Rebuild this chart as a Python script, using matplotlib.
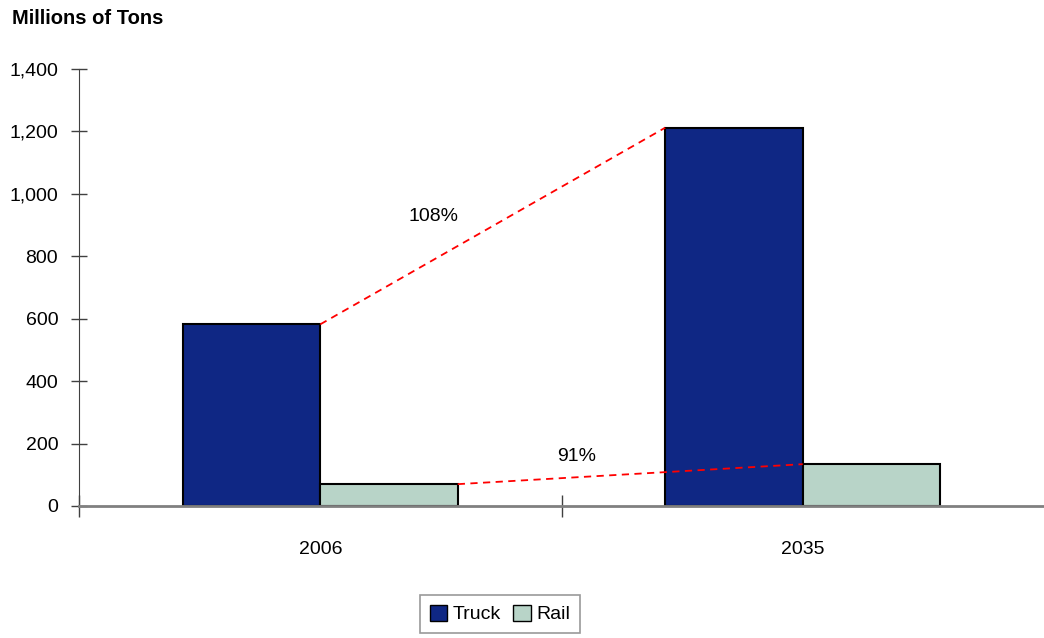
import matplotlib.pyplot as plt
from matplotlib.patches import Patch

years = ["2006", "2035"]
truck = [582, 1212]
rail = [70, 134]
growth_labels = ["108%", "91%"]
yticks = [0, 200, 400, 600, 800, 1000, 1200, 1400]

plt.rcParams['font.family'] = ['Liberation Sans Narrow', 'Liberation Sans', 'DejaVu Sans']

fig = plt.figure(figsize=(10.44, 6.38), dpi=100)
ax = fig.add_axes([79 / 1044, 132 / 638, 965 / 1044, 437 / 638])

x = [0, 1]
w = 0.285
truck_col = "#0F2784"
rail_col = "#B8D4C8"

ax.bar([i - w for i in x], truck, width=w, align="edge", color=truck_col,
       edgecolor="black", linewidth=1.5, zorder=2)
ax.bar(x, rail, width=w, align="edge", color=rail_col,
       edgecolor="black", linewidth=1.5, zorder=2)

# growth lines
ax.plot([x[0], x[1] - w], [truck[0], truck[1]], color="red", ls=(0, (4, 3)), lw=1.3, zorder=3)
ax.plot([x[0] + w, x[1]], [rail[0], rail[1]], color="red", ls=(0, (4, 3)), lw=1.3, zorder=3)
ax.text(0.235, 926, growth_labels[0], ha="center", va="center", fontsize=14)
ax.text(0.531, 160, growth_labels[1], ha="center", va="center", fontsize=14)

ax.set_xlim(-0.5, 1.5)
ax.set_ylim(0, 1400)
ax.set_yticks(yticks)
ax.set_yticklabels([f"{v:,}" for v in yticks], fontsize=14)
ax.tick_params(axis="y", direction="inout", length=12, width=1, pad=9, color="#404040")

ax.set_xticks([-0.5, 0.5])
ax.set_xticklabels(["", ""])
ax.set_xticks(x, minor=True)
ax.set_xticklabels(years, minor=True, fontsize=14)
ax.tick_params(axis="x", which="major", direction="inout", length=16, width=1, color="#404040")
ax.tick_params(axis="x", which="minor", length=0, pad=25)

for s in ["top", "right"]:
    ax.spines[s].set_visible(False)
ax.spines["left"].set_color("#404040")
ax.spines["bottom"].set_color("#808080")
ax.spines["bottom"].set_linewidth(2)

fig.text(12 / 1044, 1 - 19 / 638, "Millions of Tons", fontsize=14.5, fontweight="bold",
         ha="left", va="center")

handles = [Patch(facecolor=truck_col, edgecolor="black", label="Truck"),
           Patch(facecolor=rail_col, edgecolor="black", label="Rail")]
leg = fig.legend(handles=handles, loc="center", bbox_to_anchor=(500 / 1044, 1 - 614 / 638),
                 ncol=2, fontsize=14, frameon=True, fancybox=False, handlelength=0.9,
                 handleheight=0.9, handletextpad=0.3, columnspacing=0.6, borderpad=0.5)
leg.get_frame().set_edgecolor("#808080")
leg.get_frame().set_linewidth(1.2)

fig.savefig("out.png", dpi=100)
